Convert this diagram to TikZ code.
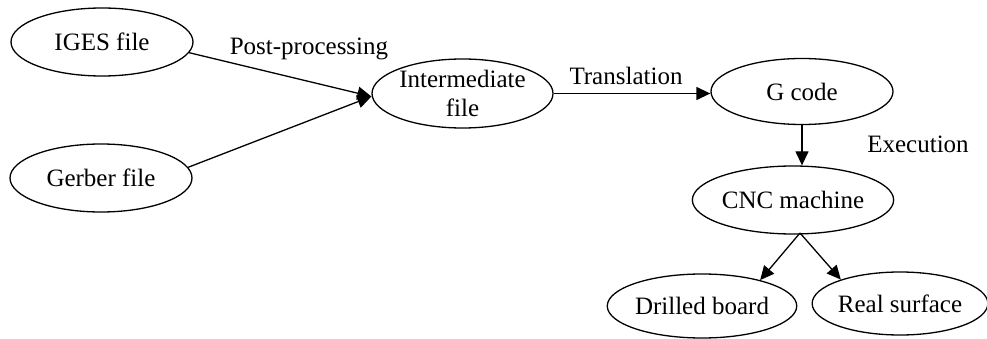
\documentclass[tikz,border=0pt]{standalone}
\usepackage{fontspec}
\setmainfont{Liberation Serif}
\usetikzlibrary{shapes.geometric,arrows.meta,calc}

\begin{document}
\begin{tikzpicture}[x=1pt,y=-1pt,
  every node/.style={font=\rmfamily\fontsize{25}{29}\selectfont},
  oval/.style={ellipse,draw,line width=1.3pt,inner sep=0pt,align=center},
  flow/.style={line width=1.3pt,-{Triangle[length=14pt,width=13pt]}},
  tag/.style={anchor=base}]
  \useasboundingbox (0,0) rectangle (987,339);

  % process stages
  \node[oval,minimum width=182pt,minimum height=68pt] (iges)   at (102,42)    {IGES file};
  \node[oval,minimum width=182pt,minimum height=68pt] (gerber) at (101,178)   {Gerber file};
  \node[oval,minimum width=181pt,minimum height=69pt] (inter)  at (462.5,93.5){Intermediate\\file};
  \node[oval,minimum width=182pt,minimum height=66pt] (gcode)  at (802,91.5)  {G code};
  \node[oval,minimum width=180pt,minimum height=68pt] (cnc)    at (793,200)   {CNC machine};
  \node[oval,minimum width=166pt,minimum height=64pt] (drill)  at (702,306)   {Drilled board};
  \node[oval,minimum width=170pt,minimum height=63pt] (real)   at (900,303.5) {Real surface};

  % connectors
  \coordinate (merge) at ($(inter.west)+(0,3)$);
  \coordinate (split) at (800,233);
  \draw[flow] (iges.-7) -- (merge);
  \draw[flow] (gerber.7) -- (merge);
  \draw[flow] (inter.east) -- (inter.east -| gcode.west);
  \draw[flow] (gcode.south) -- (gcode.south |- cnc.north);
  \draw[flow] (split) -- (drill.24);
  \draw[flow] (split) -- (real.158);

  % edge labels
  \node[tag] (lpost)  at (309,55)  {Post-processing};
  \node[tag] (ltrans) at (626,85)  {Translation};
  \node[tag] (lexec)  at (918,153) {Execution};
\end{tikzpicture}
\end{document}
